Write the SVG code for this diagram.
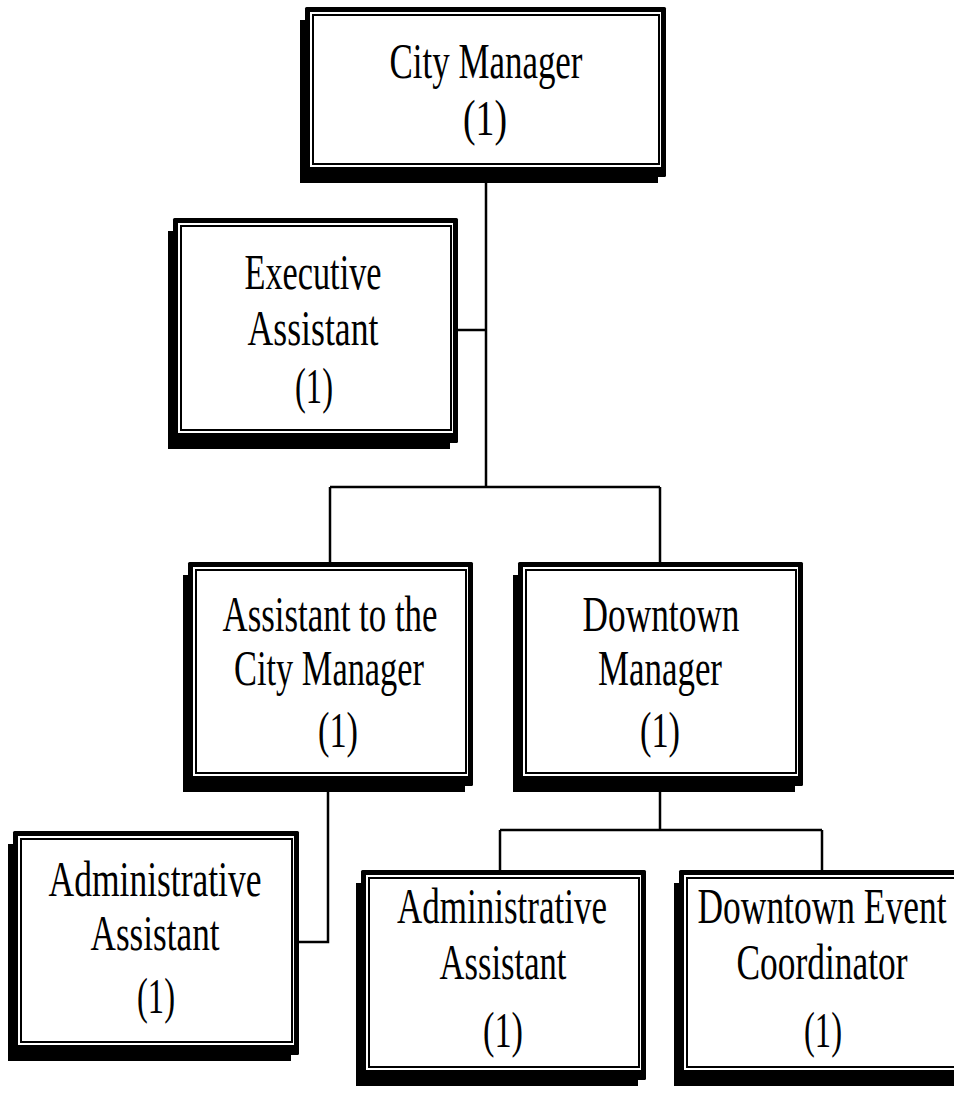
<svg xmlns="http://www.w3.org/2000/svg" width="954" height="1093" viewBox="0 0 954 1093">
<style>
.sh{fill:#000}
.fr{fill:#000;}
.wh{fill:#fff}
.in{fill:#fff;stroke:#000;stroke-width:2}
.t{font-family:"Liberation Serif","Times New Roman",serif;font-size:51px;fill:#000;text-anchor:middle}
.c{fill:none;stroke:#000;stroke-width:2.5}
</style>
<rect width="954" height="1093" fill="#fff"/>
<g id="connectors">
<path class="c" d="M486 177 V487"/>
<path class="c" d="M458 330 H487"/>
<path class="c" d="M330 487 H660"/>
<path class="c" d="M330 487 V562"/>
<path class="c" d="M660 487 V562"/>
<path class="c" d="M328 786 V942 H299"/>
<path class="c" d="M660 786 V830"/>
<path class="c" d="M500 830 H822"/>
<path class="c" d="M500 830 V870"/>
<path class="c" d="M822 830 V870"/>
</g>
<g id="city-manager">
<rect class="sh" x="300" y="20" width="358" height="163"/>
<rect class="fr" x="305" y="7" width="361" height="170" rx="1.5"/>
<rect class="wh" x="310" y="12" width="351" height="155"/>
<rect class="in" x="313" y="15" width="346" height="149"/>
<text class="t" x="486" y="78" textLength="193" lengthAdjust="spacingAndGlyphs">City Manager</text>
<text class="t" x="485" y="135" textLength="44" lengthAdjust="spacingAndGlyphs">(1)</text>
</g>
<g id="executive-assistant">
<rect class="sh" x="168" y="231" width="282" height="218"/>
<rect class="fr" x="173" y="218" width="285" height="225" rx="1.5"/>
<rect class="wh" x="178" y="223" width="275" height="210"/>
<rect class="in" x="181" y="226" width="270" height="204"/>
<text class="t" x="313" y="289" textLength="137" lengthAdjust="spacingAndGlyphs">Executive</text>
<text class="t" x="313" y="345" textLength="131" lengthAdjust="spacingAndGlyphs">Assistant</text>
<text class="t" x="314" y="403" textLength="38" lengthAdjust="spacingAndGlyphs">(1)</text>
</g>
<g id="assistant-to-city-manager">
<rect class="sh" x="183" y="575" width="282" height="217"/>
<rect class="fr" x="188" y="562" width="285" height="224" rx="1.5"/>
<rect class="wh" x="193" y="567" width="275" height="209"/>
<rect class="in" x="196" y="570" width="270" height="203"/>
<text class="t" x="330" y="631" textLength="215" lengthAdjust="spacingAndGlyphs">Assistant to the</text>
<text class="t" x="329" y="685" textLength="190" lengthAdjust="spacingAndGlyphs">City Manager</text>
<text class="t" x="338" y="747" textLength="40" lengthAdjust="spacingAndGlyphs">(1)</text>
</g>
<g id="downtown-manager">
<rect class="sh" x="513" y="575" width="282" height="217"/>
<rect class="fr" x="518" y="562" width="285" height="224" rx="1.5"/>
<rect class="wh" x="523" y="567" width="275" height="209"/>
<rect class="in" x="526" y="570" width="270" height="203"/>
<text class="t" x="661" y="631" textLength="157" lengthAdjust="spacingAndGlyphs">Downtown</text>
<text class="t" x="660" y="685" textLength="124" lengthAdjust="spacingAndGlyphs">Manager</text>
<text class="t" x="660" y="747" textLength="40" lengthAdjust="spacingAndGlyphs">(1)</text>
</g>
<g id="administrative-assistant-1">
<rect class="sh" x="8" y="844" width="283" height="217"/>
<rect class="fr" x="13" y="831" width="286" height="224" rx="1.5"/>
<rect class="wh" x="18" y="836" width="276" height="209"/>
<rect class="in" x="21" y="839" width="271" height="203"/>
<text class="t" x="155" y="896" textLength="213" lengthAdjust="spacingAndGlyphs">Administrative</text>
<text class="t" x="155" y="950" textLength="129" lengthAdjust="spacingAndGlyphs">Assistant</text>
<text class="t" x="156" y="1013" textLength="38" lengthAdjust="spacingAndGlyphs">(1)</text>
</g>
<g id="administrative-assistant-2">
<rect class="sh" x="356" y="883" width="282" height="203"/>
<rect class="fr" x="361" y="870" width="285" height="210" rx="1.5"/>
<rect class="wh" x="366" y="875" width="275" height="195"/>
<rect class="in" x="369" y="878" width="270" height="189"/>
<text class="t" x="502" y="923" textLength="210" lengthAdjust="spacingAndGlyphs">Administrative</text>
<text class="t" x="503" y="979" textLength="127" lengthAdjust="spacingAndGlyphs">Assistant</text>
<text class="t" x="503" y="1047" textLength="40" lengthAdjust="spacingAndGlyphs">(1)</text>
</g>
<g id="downtown-event-coordinator">
<rect class="sh" x="674" y="883" width="282" height="203"/>
<rect class="fr" x="679" y="870" width="285" height="210" rx="1.5"/>
<rect class="wh" x="684" y="875" width="275" height="195"/>
<rect class="in" x="687" y="878" width="270" height="189"/>
<text class="t" x="822" y="923" textLength="249" lengthAdjust="spacingAndGlyphs">Downtown Event</text>
<text class="t" x="822" y="979" textLength="171" lengthAdjust="spacingAndGlyphs">Coordinator</text>
<text class="t" x="823" y="1047" textLength="38" lengthAdjust="spacingAndGlyphs">(1)</text>
</g>
</svg>
